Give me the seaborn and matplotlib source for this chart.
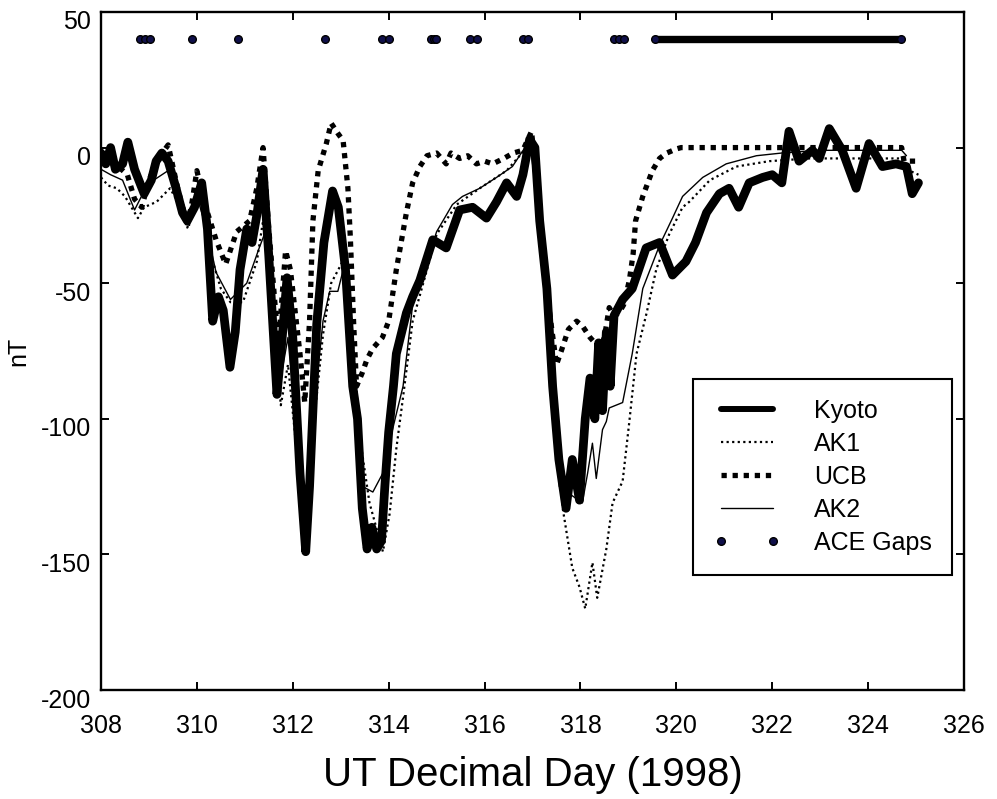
import numpy as np
import pandas as pd
import matplotlib
matplotlib.use('Agg')
import matplotlib.pyplot as plt
import matplotlib.transforms as mtransforms
import seaborn as sns

# Dst index, storm period Nov 1998
kyoto_day = [308.0, 308.1, 308.2, 308.3, 308.45, 308.56, 308.7, 308.9, 309.05, 309.15,
             309.27, 309.4, 309.55, 309.7, 309.8, 309.95, 310.1, 310.22, 310.33, 310.45,
             310.55, 310.69, 310.8, 310.9, 311.04, 311.15, 311.25, 311.38, 311.5, 311.67,
             311.78, 311.88, 312.0, 312.15, 312.27, 312.35, 312.5, 312.65, 312.83, 312.95,
             313.1, 313.25, 313.35, 313.45, 313.55, 313.65, 313.75, 313.85, 313.92, 314.0,
             314.1, 314.16, 314.37, 314.5, 314.65, 314.92, 315.2, 315.48, 315.75, 316.04,
             316.25, 316.46, 316.67, 316.8, 316.94, 317.05, 317.15, 317.3, 317.42, 317.55,
             317.7, 317.83, 317.98, 318.1, 318.2, 318.3, 318.38, 318.46, 318.54, 318.62,
             318.7, 318.88, 319.08, 319.37, 319.65, 319.92, 320.2, 320.4, 320.63, 320.9,
             321.1, 321.3, 321.52, 321.8, 322.0, 322.2, 322.35, 322.56, 322.84, 322.98,
             323.19, 323.46, 323.75, 324.02, 324.3, 324.58, 324.8, 324.92, 325.05]
kyoto_nt = [-2, -6, 0, -8, -6, 2, -8, -17, -12, -5,
            -2, -5, -14, -24, -27, -22, -13, -30, -64, -55,
            -60, -81, -68, -45, -30, -35, -25, -8, -40, -91,
            -70, -48, -70, -120, -149, -125, -65, -35, -16, -22,
            -45, -88, -100, -133, -148, -140, -148, -145, -125, -105,
            -88, -76, -61, -55, -49, -34, -37, -23, -22, -26,
            -20, -13, -18, -10, 3, 0, -27, -52, -88, -115,
            -133, -115, -130, -100, -85, -100, -72, -97, -68, -88,
            -62, -56, -52, -37, -35, -47, -42, -35, -24, -17,
            -15, -22, -13, -11, -10, -13, 6, -5, -1, -4,
            7, -1, -15, 1.5, -7, -6, -7, -17, -13]

ak1_day = [308.0, 308.15, 308.33, 308.5, 308.77, 308.9, 309.16, 309.44, 309.6, 309.8,
           309.95, 310.1, 310.3, 310.5, 310.7, 310.96, 311.25, 311.38, 311.55, 311.75,
           311.9, 312.1, 312.3, 312.45, 312.63, 312.8, 312.98, 313.12, 313.4, 313.6,
           313.88, 314.02, 314.16, 314.3, 314.5, 314.8, 315.0, 315.42, 315.9, 316.46,
           316.88, 317.0, 317.2, 317.45, 317.63, 317.83, 317.98, 318.1, 318.25, 318.35,
           318.54, 318.67, 318.88, 319.02, 319.17, 319.38, 319.58, 319.85, 320.13, 320.27,
           320.7, 321.25, 321.94, 322.77, 323.33, 324.0, 324.7, 324.8, 325.05]
ak1_nt = [-11, -14, -15, -18, -26, -22, -20, -15, -20, -29.5,
          -22, -18, -40, -52, -57, -57, -42, -27, -50, -95,
          -80, -115, -140, -100, -69, -50, -44, -39, -107, -131,
          -149, -135, -111, -92, -64, -45, -32, -21, -15, -8.5,
          0, 2, -30, -90, -133, -155, -162, -170, -153, -166,
          -148, -131, -123, -101, -76, -61, -45, -32, -22, -20,
          -12, -7, -5, -4, -4, -4, -4, -8, -10]

ucb_day = [308.0, 308.3, 308.55, 308.7, 308.85, 309.0, 309.2, 309.4, 309.6, 309.8,
           309.9, 310.0, 310.15, 310.4, 310.6, 310.83, 311.1, 311.25, 311.38, 311.5,
           311.7, 311.85, 311.95, 312.15, 312.25, 312.35, 312.42, 312.53, 312.7, 312.8,
           312.95, 313.05, 313.15, 313.2, 313.27, 313.33, 313.45, 313.55, 313.67, 313.87,
           314.0, 314.16, 314.37, 314.5, 314.65, 314.8, 315.0, 315.2, 315.3, 315.48,
           315.65, 315.83, 316.0, 316.17, 316.4, 316.6, 316.8, 316.98, 317.1, 317.2,
           317.35, 317.5, 317.6, 317.75, 317.92, 318.05, 318.2, 318.3, 318.4, 318.5,
           318.6, 318.7, 318.8, 318.9, 319.02, 319.1, 319.15, 319.3, 319.5, 319.65,
           319.8, 320.0, 320.1, 321.0, 322.0, 323.0, 324.0, 324.7, 324.75, 325.05]
ucb_nt = [-3, -6, -10, -19, -22, -12, -4, 1, -15, -29,
          -20, -8.5, -20, -34, -43, -31, -27, -15, 0, -30,
          -73, -38, -45, -76, -94, -64, -27, -8.5, 1.5, 9,
          5, 2.6, -15, -33, -65, -88, -83, -78, -74, -70,
          -64, -45, -24, -13, -7, -3, -2, -6, -2, -4,
          -3, -6, -5, -6, -4, -2, -1, 6, -15, -39,
          -60, -80, -75, -67, -64, -66, -70, -72, -74, -70,
          -59, -62, -61, -58, -49, -39, -27, -18, -8.5, -4,
          -2, -0.5, 0, 0, 0, 0, 0, 0, -5, -5]

ak2_day = [308.0, 308.2, 308.45, 308.7, 308.9, 309.1, 309.4, 309.6, 309.8, 310.0,
           310.2, 310.4, 310.7, 311.04, 311.3, 311.45, 311.6, 311.75, 311.9, 312.1,
           312.28, 312.45, 312.63, 312.77, 312.94, 313.08, 313.25, 313.46, 313.67, 313.88,
           314.08, 314.3, 314.5, 314.65, 315.0, 315.33, 315.54, 315.9, 316.25, 316.58,
           316.94, 317.1, 317.3, 317.45, 317.56, 317.8, 318.04, 318.15, 318.25, 318.33,
           318.46, 318.54, 318.6, 318.88, 319.08, 319.3, 319.65, 319.92, 320.13, 320.55,
           321.04, 321.67, 322.2, 323.0, 324.0, 324.7, 324.8]
ak2_nt = [-8, -10, -12, -23, -16, -12, -8.5, -15, -25, -18,
          -30, -46, -56, -50, -37, -30, -60, -85, -70, -110,
          -140, -95, -64, -53, -53, -43, -85, -125, -127, -120,
          -104, -88, -58, -50, -31, -21, -18, -15, -11, -7,
          2.6, -20, -60, -100, -125, -128, -131, -120, -109, -122,
          -104, -101, -96, -94, -76, -52, -36, -26, -18, -11,
          -6, -3, -2, -1, -1, -1, -3]

# ACE data gaps: single gap times and one long stretch
ace_gap_days = [308.81, 308.92, 309.02, 309.89, 310.85, 312.68, 313.86, 314.0,
                314.89, 314.94, 314.99, 315.7, 315.85, 316.8, 316.9,
                318.71, 318.8, 318.9]
ace_long_gap = (319.56, 324.69)
ace_level = 40

sns.set_style('ticks')
plt.rcParams['font.family'] = ['Liberation Sans', 'DejaVu Sans']
plt.rcParams['axes.unicode_minus'] = False
plt.rcParams['text.color'] = 'black'
plt.rcParams['axes.labelcolor'] = 'black'

fig = plt.figure(figsize=(9.97, 7.99), dpi=100)
ax = fig.add_axes([0.1013, 0.1364, 0.8656, 0.8486])

sns.lineplot(x=kyoto_day, y=kyoto_nt, ax=ax, color='black', lw=6.3,
             sort=False, estimator=None, label='Kyoto')
sns.lineplot(x=ak1_day, y=ak1_nt, ax=ax, color='black', lw=1.6,
             linestyle=(0, (1, 1.5)), sort=False, estimator=None, label='AK1')
sns.lineplot(x=ucb_day, y=ucb_nt, ax=ax, color='black', lw=3.8,
             linestyle=(0, (1, 1.1)), sort=False, estimator=None, label='UCB')
sns.lineplot(x=ak2_day, y=ak2_nt, ax=ax, color='black', lw=1.0,
             sort=False, estimator=None, label='AK2')

gap_style = dict(color='black', marker='o', markersize=5.5,
                 markerfacecolor='#10104a', markeredgecolor='black', markeredgewidth=1)
ax.plot(ace_gap_days, [ace_level] * len(ace_gap_days), linestyle='none',
        label='ACE Gaps', **gap_style)
ax.plot(list(ace_long_gap), [ace_level, ace_level], linestyle='-', lw=5.3,
        solid_capstyle='round', **gap_style)

ax.set_xlim(308, 326)
ax.set_ylim(-200, 50)
ax.set_xticks(np.arange(308, 327, 2))
ax.set_yticks([-200, -150, -100, -50, 0, 50])
ax.tick_params(direction='in', top=True, right=True, length=6, width=1.4,
               labelsize=18, colors='black')
ax.tick_params(axis='x', pad=17)
ax.tick_params(axis='y', pad=7)
for s in ax.spines.values():
    s.set_visible(True)
    s.set_linewidth(1.7)
    s.set_color('black')

# y tick labels sit a little below their ticks in the original
offset = mtransforms.ScaledTranslation(0, -8 / 100, fig.dpi_scale_trans)
for lab in ax.get_yticklabels():
    lab.set_transform(lab.get_transform() + offset)

ax.set_xlabel('UT Decimal Day (1998)', fontsize=29, labelpad=13, color='black')
ax.set_ylabel('nT', fontsize=18, labelpad=8, color='black')

handles, labels = ax.get_legend_handles_labels()
leg = ax.legend(handles, labels, loc='upper left', bbox_to_anchor=(0.686, 0.4587),
                borderaxespad=0, fontsize=18, frameon=True, fancybox=False,
                edgecolor='black', framealpha=1, borderpad=0.8, labelspacing=0.36,
                handlelength=2.7, handletextpad=1.35, numpoints=2)
leg.get_frame().set_linewidth(1.5)
leg.get_lines()[0].set_linewidth(4.3)
for t in leg.get_texts():
    t.set_color('black')

fig.savefig('out.png', dpi=100, facecolor='white')
